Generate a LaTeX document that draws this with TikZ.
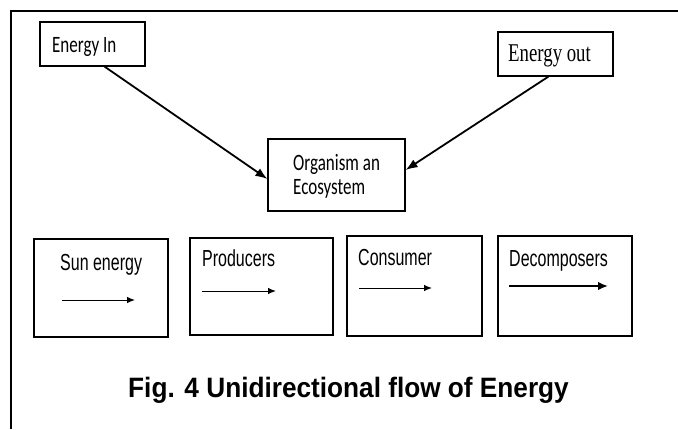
\documentclass[tikz,border=0pt]{standalone}
\usepackage{graphicx}
\usepackage{fontspec}
\usetikzlibrary{arrows.meta}
\newfontfamily\calfont{Carlito}
\newfontfamily\timesfont{Liberation Serif}
\newfontfamily\capfont{Liberation Sans}
\newcommand{\vstretch}[2]{\scalebox{1}[#1]{#2}}
\begin{document}
\begin{tikzpicture}[x=1pt,y=-1pt,
  box/.style={draw=black, line width=1.1pt, rectangle, inner sep=0pt},
  conn/.style={line width=1.8pt, -{Latex[length=12pt,width=9pt]}},
  inarr/.style={line width=1pt, -{Latex[length=8pt,width=6.5pt]}},
  txt/.style={inner sep=0pt, anchor=base west},
  blabel/.style={txt, font=\capfont\fontsize{16}{20}\selectfont},
  clabel/.style={txt, font=\calfont\fontsize{17}{20}\selectfont}]
\useasboundingbox (0,0) rectangle (678,429);
% frame
\draw[line width=1.2pt] (11,429) -- (11,11) -- (678,11);
% top nodes
\node[box, minimum width=105pt, minimum height=44pt] (ein) at (92.5,44) {};
\node[box, minimum width=115pt, minimum height=44pt] (eout) at (555.5,54) {};
\node[box, minimum width=137pt, minimum height=72pt] (org) at (336.5,175) {};
\node[clabel] (einl) at (52,52) {\vstretch{1.38}{Energy In}};
\node[txt, font=\timesfont\fontsize{18.8}{22}\selectfont] (eoutl) at (508,61) {\vstretch{1.36}{Energy out}};
\node[clabel] (orgl1) at (293,170) {\vstretch{1.38}{Organism an}};
\node[clabel] (orgl2) at (293,194) {\vstretch{1.38}{Ecosystem}};
\draw[conn] ([xshift=12pt]ein.south) -- ([yshift=-4pt]org.west);
\draw[conn] ([xshift=-7pt]eout.south) -- ([yshift=5pt]org.east);
% bottom boxes
\node[box, minimum width=134pt, minimum height=98pt] (sun) at (101,288) {};
\node[box, minimum width=143pt, minimum height=97pt] (prod) at (261.5,286.5) {};
\node[box, minimum width=135pt, minimum height=100pt] (cons) at (414.5,286) {};
\node[box, minimum width=134pt, minimum height=100pt] (dec) at (565,286) {};
\node[blabel] (sunl) at (60,270) {\vstretch{1.45}{Sun energy}};
\node[blabel] (prodl) at (202,266) {\vstretch{1.45}{Producers}};
\node[blabel] (consl) at (358,265) {\vstretch{1.45}{Consumer}};
\node[blabel] (decl) at (509,266) {\vstretch{1.45}{Decomposers}};
\draw[inarr] (62,300) -- (135,300);
\draw[inarr] (202,291) -- (276,291);
\draw[inarr] (359,288) -- (432,288);
\draw[line width=1.8pt, -{Latex[length=10pt,width=8.5pt]}] (509,286) -- (608,286);
% caption
\node[font=\capfont\bfseries\fontsize{26.2}{30}\selectfont, inner sep=0pt, anchor=base] (cap) at (348.5,397) {\vstretch{1.07}{Fig. 4 Unidirectional flow of Energy}};
\end{tikzpicture}
\end{document}
